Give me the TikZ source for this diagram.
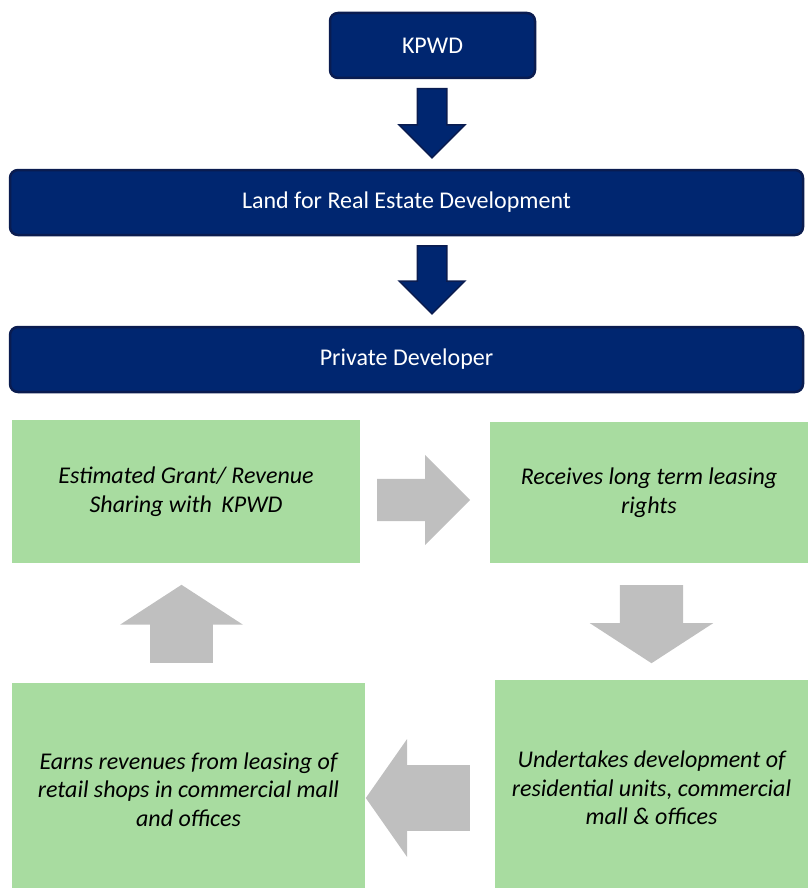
\documentclass[tikz,border=0pt]{standalone}
\usepackage{fontspec}
\setmainfont{Carlito}
\usetikzlibrary{shapes.arrows}
\definecolor{Navy}{RGB}{0,38,112}
\definecolor{NavyEdge}{RGB}{10,28,80}
\definecolor{Leaf}{RGB}{168,220,160}
\definecolor{Ash}{RGB}{191,191,191}

\begin{document}
\begin{tikzpicture}[x=1pt, y=-1pt]
	\tikzstyle{bluebox}=[draw=NavyEdge, line width=2.5pt, fill=Navy, rounded corners=8pt, text=white, minimum height=65pt, font=\fontsize{24}{28}\selectfont];
	\tikzstyle{greenbox}=[fill=Leaf, align=center, font=\fontsize{24}{28.5}\selectfont\itshape];
	\tikzstyle{bluearrow}=[single arrow, draw=NavyEdge, line width=1.5pt, fill=Navy, rotate=-90, anchor=tail, inner xsep=0pt, inner ysep=14pt];
	\tikzstyle{greyarrow}=[single arrow, fill=Ash, anchor=tail, inner xsep=0pt];
	\useasboundingbox (0, 0) rectangle (808, 888);
	% top chain
	\node [bluebox, minimum width=205pt] (kpwd) at (432.5, 45.5) {KPWD};
	\node [bluebox, minimum width=793pt] (land) at (406.5, 202.5) {Land for Real Estate Development};
	\node [bluebox, minimum width=793pt] (dev) at (406.5, 359.5) {Private Developer};
	\node [bluearrow, minimum height=69pt, minimum width=64pt, single arrow head extend=18pt, single arrow tip angle=90] (a1) at (432, 88) {};
	\node [bluearrow, minimum height=68pt, minimum width=64pt, single arrow head extend=18pt, single arrow tip angle=90] (a2) at (432, 245) {};
	% cycle
	\node [greenbox, minimum width=348pt, minimum height=143pt] (grant) at (186, 491.5) {Estimated Grant/ Revenue\\Sharing with\, KPWD};
	\node [greenbox, minimum width=318pt, minimum height=141pt] (lease) at (649, 492.5) {Receives long term leasing\\rights};
	\node [greenbox, minimum width=313pt, minimum height=216pt] (build) at (651.5, 788) {Undertakes development of\\residential units, commercial\\mall \& offices};
	\node [greenbox, minimum width=353pt, minimum height=213pt] (earn) at (188.5, 789.5) {Earns revenues from leasing of\\retail shops in commercial mall\\and offices};
	\node [greyarrow, inner ysep=21pt, minimum height=93pt, minimum width=90pt, single arrow head extend=24pt, single arrow tip angle=90] (r1) at (377, 500) {};
	\node [greyarrow, inner ysep=31.5pt, rotate=-90, minimum height=78pt, minimum width=123pt, single arrow head extend=30pt, single arrow tip angle=114] (r2) at (651.5, 585) {};
	\node [greyarrow, inner ysep=32.5pt, rotate=180, minimum height=104pt, minimum width=118pt, single arrow head extend=26pt, single arrow tip angle=110] (r3) at (470, 798) {};
	\node [greyarrow, inner ysep=31pt, rotate=90, minimum height=78pt, minimum width=123pt, single arrow head extend=30pt, single arrow tip angle=114] (r4) at (181.5, 663) {};
\end{tikzpicture}
\end{document}
